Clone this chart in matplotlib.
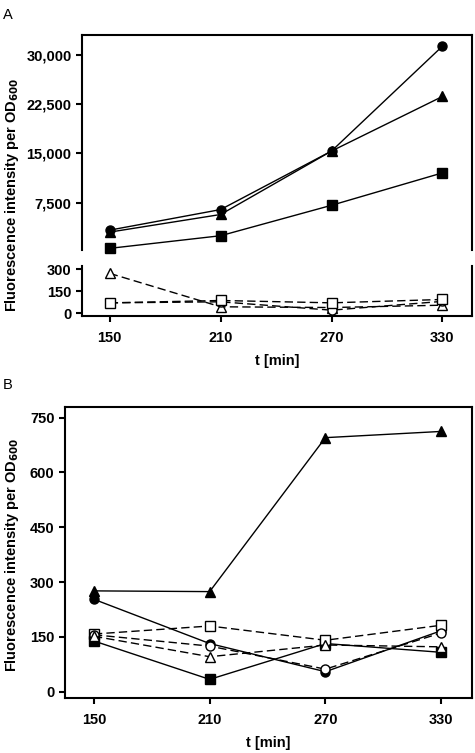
import matplotlib
matplotlib.use("Agg")
import matplotlib.pyplot as plt
from matplotlib.ticker import FuncFormatter

plt.rcParams['font.family'] = ['Liberation Sans', 'DejaVu Sans']
plt.rcParams['font.weight'] = 'bold'

t = [150, 210, 270, 330]

# panel A, upper part (filled symbols)
a_circle = [3320, 6450, 15350, 31300]
a_triangle = [3020, 5700, 15350, 23650]
a_square = [550, 2470, 7100, 12030]
# panel A, lower part (open symbols)
a_open_triangle = [273, 45, 40, 56]
a_open_circle = [72, 79, 22, 82]
a_open_square = [72, 88, 72, 95]

# panel B
b_circle = [253, 132, 55, 167]
b_triangle = [276, 274, 695, 712]
b_square = [139, 34, 132, 108]
b_open_square = [158, 180, 141, 182]
b_open_circle = [156, 125, 62, 161]
b_open_triangle = [152, 96, 128, 123]

ylab = 'Fluorescence intensity per OD$_\\mathbf{600}$'
fs = 10.5

fig = plt.figure(figsize=(4.75, 7.53), dpi=100)
ax1 = fig.add_axes([0.1726, 0.668, 0.8211, 0.2855])
ax2 = fig.add_axes([0.1726, 0.5803, 0.8211, 0.0664])
ax3 = fig.add_axes([0.1368, 0.0730, 0.8569, 0.3861])

def solid(ax, y, m):
    ax.plot(t, y, '-', color='black', lw=1, marker=m, ms=6.5,
            mfc='black', mec='black', clip_on=False, zorder=3)

def dashed(ax, y, m):
    ax.plot(t, y, '--', color='black', lw=1, marker=m, ms=6.5, dashes=(6, 3),
            mfc='white', mec='black', mew=1, clip_on=False, zorder=3)

solid(ax1, a_circle, 'o')
solid(ax1, a_triangle, '^')
solid(ax1, a_square, 's')
dashed(ax2, a_open_triangle, '^')
dashed(ax2, a_open_circle, 'o')
dashed(ax2, a_open_square, 's')

solid(ax3, b_triangle, '^')
solid(ax3, b_circle, 'o')
solid(ax3, b_square, 's')
dashed(ax3, b_open_square, 's')
dashed(ax3, b_open_circle, 'o')
dashed(ax3, b_open_triangle, '^')

for ax in (ax1, ax2, ax3):
    ax.set_xlim(135, 346)
    for s in ax.spines.values():
        s.set_linewidth(1.5)
    ax.tick_params(direction='out', width=1.5, length=4, labelsize=fs)

ax1.set_ylim(300, 33000)
ax1.set_yticks([7500, 15000, 22500, 30000])
ax1.yaxis.set_major_formatter(FuncFormatter(lambda v, p: f'{int(v):,}'))
ax1.spines['bottom'].set_visible(False)
ax1.set_xticks([])

ax2.set_ylim(-18, 323)
ax2.set_yticks([0, 150, 300])
ax2.spines['top'].set_visible(False)
ax2.set_xticks(t)
ax2.tick_params(axis='x', pad=7)
ax2.set_xlabel('t [min]', fontsize=fs, fontweight='bold', labelpad=6)

ax3.set_ylim(-17, 778)
ax3.set_yticks([0, 150, 300, 450, 600, 750])
ax3.set_xticks(t)
ax3.tick_params(axis='x', pad=7)
ax3.set_xlabel('t [min]', fontsize=fs, fontweight='bold', labelpad=6)

for ax in (ax1, ax2, ax3):
    for lab in ax.get_xticklabels() + ax.get_yticklabels():
        lab.set_fontweight('bold')

fig.text(0.025, 1 - 195 / 753, ylab, rotation=90, fontsize=fs,
         fontweight='bold', ha='center', va='center')
fig.text(0.025, 1 - 555 / 753, ylab, rotation=90, fontsize=fs,
         fontweight='bold', ha='center', va='center')

fig.text(0.006, 0.99, 'A', fontsize=10.5, fontweight='normal', va='top')
fig.text(0.006, 1 - 378 / 753, 'B', fontsize=10.5, fontweight='normal', va='top')

fig.savefig('out.png', dpi=100)
